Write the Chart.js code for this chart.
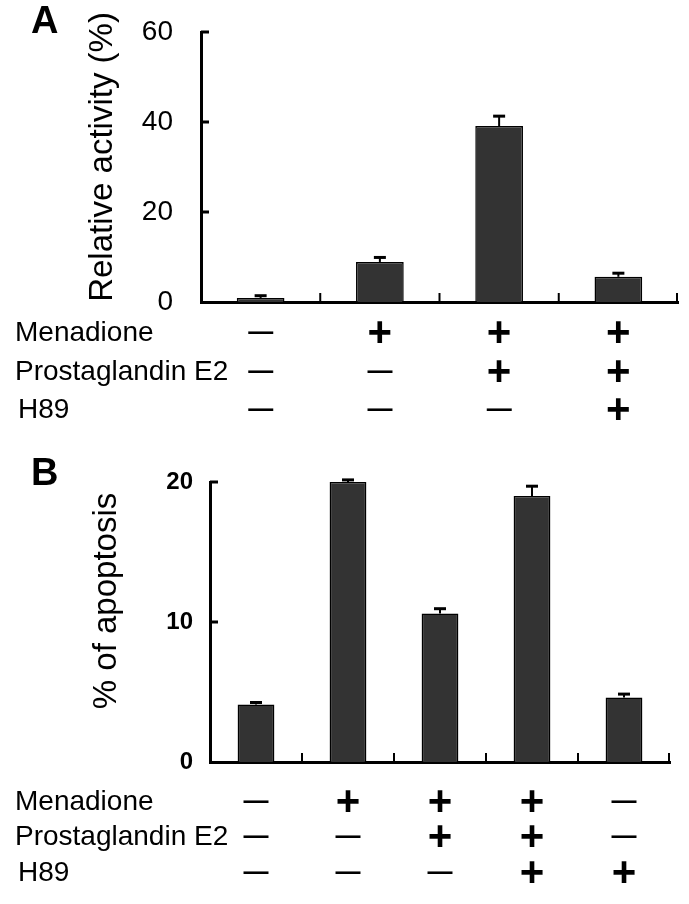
<!DOCTYPE html>
<html><head><meta charset="utf-8">
<script src="https://cdn.jsdelivr.net/npm/chart.js@4.4.1/dist/chart.umd.min.js"></script>
<style>
html,body{margin:0;padding:0;background:#fff;width:689px;height:904px;overflow:hidden}
canvas{position:absolute;left:0}
#cA{top:0}
#cB{top:452px}
</style></head><body>
<canvas id="cA" width="689" height="452"></canvas>
<canvas id="cB" width="689" height="452"></canvas>
<script>
// ---- Panel A data ----
const categoriesA = ['1', '2', '3', '4'];
const valuesA = [0.9, 8.9, 39.1, 5.6];
const errorsA = [0.5, 1.0, 2.2, 0.8];
const yTicksA = [0, 20, 40, 60];
const menadioneA = ['—', '+', '+', '+'];
const pge2A = ['—', '—', '+', '+'];
const h89A = ['—', '—', '—', '+'];

// ---- Panel B data ----
const categoriesB = ['1', '2', '3', '4', '5'];
const valuesB = [4.1, 20.0, 10.6, 19.0, 4.6];
const errorsB = [0.15, 0.15, 0.35, 0.7, 0.25];
const yTicksB = [0, 10, 20];
const menadioneB = ['—', '+', '+', '+', '—'];
const pge2B = ['—', '—', '+', '+', '—'];
const h89B = ['—', '—', '—', '+', '+'];

const rowLabels = ['Menadione', 'Prostaglandin E2', 'H89'];

const FONT = '"Liberation Sans", Arial, sans-serif';

const panelPlugin = {
  id: 'panel',
  afterDraw(chart, args, o) {
    const ctx = chart.ctx, xs = chart.scales.x, ys = chart.scales.y, a = chart.chartArea;
    ctx.save();
    ctx.strokeStyle = '#000';
    ctx.fillStyle = '#000';
    // error bars (upper only)
    const meta = chart.getDatasetMeta(0);
    meta.data.forEach((bar, i) => {
      const top = ys.getPixelForValue(o.values[i] + o.errors[i]);
      ctx.lineWidth = 2;
      ctx.beginPath(); ctx.moveTo(bar.x, bar.y); ctx.lineTo(bar.x, top); ctx.stroke();
      ctx.lineWidth = 3;
      ctx.beginPath(); ctx.moveTo(bar.x - 6, top); ctx.lineTo(bar.x + 6, top); ctx.stroke();
    });
    // inward y ticks
    ctx.lineWidth = 3;
    ys.ticks.forEach(t => {
      if (t.value === 0) return;
      const py = ys.getPixelForValue(t.value);
      ctx.beginPath(); ctx.moveTo(a.left, py); ctx.lineTo(a.left + 8, py); ctx.stroke();
    });
    // category boundary ticks on x axis
    ctx.lineWidth = 2;
    const n = o.values.length;
    for (let i = 0; i < n; i++) {
      const px = i < n - 1 ? (xs.getPixelForValue(i) + xs.getPixelForValue(i + 1)) / 2 : a.right - 1;
      ctx.beginPath(); ctx.moveTo(px, a.bottom); ctx.lineTo(px, a.bottom - 9); ctx.stroke();
    }
    // panel letter
    ctx.font = 'bold 38px ' + FONT;
    ctx.textAlign = 'left'; ctx.textBaseline = 'alphabetic';
    ctx.fillText(o.letter, o.letterX, o.letterY);
    // y title
    ctx.save();
    ctx.translate(o.titleX, o.titleY);
    ctx.rotate(-Math.PI / 2);
    ctx.font = o.titleFont + ' ' + FONT;
    ctx.textAlign = 'center'; ctx.textBaseline = 'middle';
    ctx.fillText(o.title, 0, 0);
    ctx.restore();
    // treatment table
    ctx.textBaseline = 'middle';
    o.rows.forEach((row, r) => {
      ctx.font = '28px ' + FONT;
      ctx.textAlign = 'left';
      ctx.fillText(rowLabels[r], r === 2 ? 18 : 15, o.rowY[r]);
      row.forEach((s, i) => {
        const px = xs.getPixelForValue(i);
        ctx.textAlign = 'center';
        if (s === '+') {
          ctx.font = 'bold 42px ' + FONT;
          ctx.fillText(s, px, o.rowY[r] + 1);
        } else {
          ctx.font = 'bold 25px ' + FONT;
          ctx.fillText(s, px, o.rowY[r]);
        }
      });
    });
    ctx.restore();
  }
};

function makeChart(id, cats, vals, errs, yTicks, cfg) {
  return new Chart(document.getElementById(id), {
    type: 'bar',
    data: {
      labels: cats,
      datasets: [{
        data: vals,
        backgroundColor: '#333333',
        borderColor: '#000000',
        borderWidth: 1.5,
        barPercentage: 0.4,
        categoryPercentage: 1.0
      }]
    },
    options: {
      responsive: false,
      animation: false,
      devicePixelRatio: 1,
      layout: { padding: cfg.padding },
      plugins: {
        legend: { display: false },
        tooltip: { enabled: false },
        panel: cfg.panel
      },
      scales: {
        x: {
          z: 1,
          grid: { display: false, drawTicks: false },
          border: { display: true, color: '#000', width: 3 },
          ticks: { display: false },
          afterFit: s => { s.height = 0; s.paddingLeft = 0; s.paddingRight = 0; }
        },
        y: {
          z: 1,
          min: yTicks[0],
          max: yTicks[yTicks.length - 1],
          afterBuildTicks: s => { s.ticks = yTicks.map(v => ({ value: v })); },
          grid: { display: false, drawTicks: false },
          border: { display: true, color: '#000', width: 3 },
          ticks: {
            padding: cfg.tickPad,
            color: '#000',
            font: cfg.tickFont
          },
          afterFit: s => { s.width = cfg.yWidth; s.paddingTop = 0; s.paddingBottom = 0; }
        }
      }
    },
    plugins: [panelPlugin]
  });
}

makeChart('cA', categoriesA, valuesA, errorsA, yTicksA, {
  padding: { left: 0, top: 32, right: 11, bottom: 150 },
  yWidth: 201,
  tickPad: 28,
  tickFont: { family: FONT, size: 28 },
  panel: {
    values: valuesA, errors: errorsA,
    letter: 'A', letterX: 31, letterY: 33,
    title: 'Relative activity (%)', titleFont: '33px', titleX: 103, titleY: 157,
    rows: [menadioneA, pge2A, h89A],
    rowY: [333, 372, 410]
  }
});

makeChart('cB', categoriesB, valuesB, errorsB, yTicksB, {
  padding: { left: 0, top: 30, right: 19, bottom: 142 },
  yWidth: 210,
  tickPad: 17,
  tickFont: { family: FONT, size: 24, weight: 'bold' },
  panel: {
    values: valuesB, errors: errorsB,
    letter: 'B', letterX: 31, letterY: 33,
    title: '% of apoptosis', titleFont: '33px', titleX: 107, titleY: 149,
    rows: [menadioneB, pge2B, h89B],
    rowY: [350, 385, 421]
  }
});
</script>
</body></html>
